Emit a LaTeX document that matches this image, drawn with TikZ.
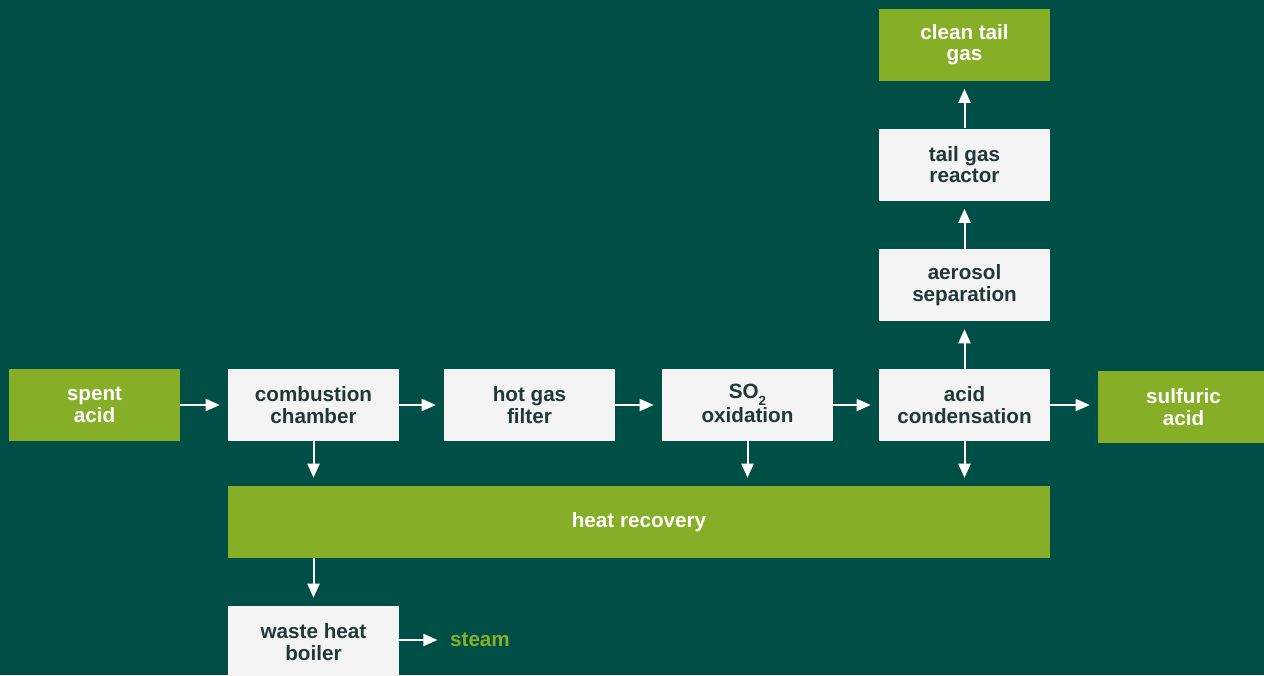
\documentclass[tikz,border=0pt]{standalone}
\usepackage{fontspec}
\setmainfont{Liberation Sans}
\usetikzlibrary{arrows.meta}

\definecolor{bgteal}{RGB}{0,79,71}
\definecolor{leaf}{RGB}{134,174,39}
\definecolor{boxgray}{RGB}{244,244,244}
\definecolor{inkdark}{RGB}{33,56,56}

\tikzset{
  unit/.style={fill=boxgray, text=inkdark, minimum width=128.25pt, minimum height=54pt,
    align=center, inner sep=0pt, font=\bfseries\fontsize{15.5}{16}\selectfont},
  feed/.style={unit, fill=leaf, text=white},
  flow/.style={draw=white, line width=1.5pt, -{Triangle[length=10.5pt,width=9pt]}, shorten >=6pt},
}

\begin{document}
\begin{tikzpicture}[x=0.75pt, y=-0.75pt]
  % background
  \fill[bgteal] (0,0) rectangle (1264,675);
  \useasboundingbox (0,0) rectangle (1264,675);

  % main line
  \node[feed] (spent) at (94.5,405) {spent\\acid};
  \node[unit] (comb) at (313.5,405) {combustion\\chamber};
  \node[unit] (hgf) at (529.5,405) {hot gas\\filter};
  \node[unit, text depth=2pt] (oxid) at (747.5,405) {SO\raisebox{-0.6ex}{\fontsize{10}{10}\selectfont 2}\\[1pt]oxidation};
  \node[unit] (acond) at (964.5,405) {acid\\condensation};
  \node[feed] (sulf) at (1183.5,407) {sulfuric\\acid};

  % tail gas line
  \node[unit] (aero) at (964.5,285) {aerosol\\separation};
  \node[unit] (tgr) at (964.5,164.5) {tail gas\\reactor};
  \node[feed] (clean) at (964.5,44.5) {clean tail\\gas};

  % heat
  \node[feed, minimum width=616.5pt] (heat) at (639,522) {heat recovery};
  \node[unit] (whb) at (313.5,642) {waste heat\\boiler};
  \node[text=leaf, font=\bfseries\fontsize{15.5}{16}\selectfont] (steam) at (480,640) {steam};

  \draw[flow] (spent) -- (comb);
  \draw[flow] (comb) -- (hgf);
  \draw[flow] (hgf) -- (oxid.west |- hgf);
  \draw[flow] (oxid.east |- acond) -- (acond);
  \draw[flow] (acond.east) -- (acond.east -| sulf.west);
  \draw[flow] (acond) -- (aero);
  \draw[flow] (aero) -- (tgr);
  \draw[flow] (tgr) -- (clean);
  \draw[flow] (comb.south) -- (comb.south |- heat.north);
  \draw[flow] (oxid.south) -- (oxid.south |- heat.north);
  \draw[flow] (acond.south) -- (acond.south |- heat.north);
  \draw[flow] (comb.south |- heat.south) -- (whb.north);
  \draw[flow] (whb.east |- steam) -- (steam);
\end{tikzpicture}
\end{document}
